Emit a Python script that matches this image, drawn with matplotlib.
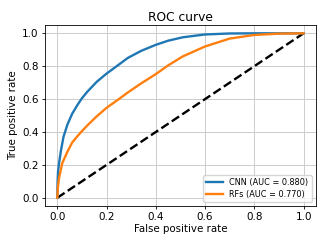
import numpy as np
import matplotlib
matplotlib.use("Agg")
import matplotlib.pyplot as plt

# ROC points
cnn_fpr = [0.0, 0.001, 0.003, 0.007, 0.014, 0.025, 0.041, 0.06, 0.082, 0.1, 0.122,
           0.16, 0.2, 0.25, 0.286, 0.34, 0.4, 0.45, 0.51, 0.6, 0.7, 0.8, 1.0]
cnn_tpr = [0.0, 0.09, 0.16, 0.21, 0.28, 0.37, 0.445, 0.51, 0.565, 0.605, 0.645,
           0.705, 0.755, 0.81, 0.85, 0.893, 0.93, 0.955, 0.976, 0.993, 0.999, 1.0, 1.0]
rf_fpr = [0.0, 0.002, 0.007, 0.02, 0.041, 0.06, 0.082, 0.1, 0.122, 0.16, 0.2,
          0.25, 0.286, 0.34, 0.4, 0.45, 0.51, 0.6, 0.7, 0.8, 0.9, 1.0]
rf_tpr = [0.0, 0.06, 0.12, 0.21, 0.28, 0.335, 0.375, 0.405, 0.44, 0.495, 0.547,
          0.6, 0.64, 0.695, 0.752, 0.805, 0.86, 0.92, 0.968, 0.99, 0.998, 1.0]
labels = ['CNN (AUC = 0.880)', 'RFs (AUC = 0.770)']

fig = plt.figure(figsize=(3.27, 2.46), dpi=100)
ax = fig.add_axes([0.1376, 0.1626, 0.8284, 0.7354])

ax.plot([0, 1], [0, 1], 'k--', lw=1.7)
ax.plot(cnn_fpr, cnn_tpr, color='#1f77b4', lw=1.7, label=labels[0])
ax.plot(rf_fpr, rf_tpr, color='#ff7f0e', lw=1.7, label=labels[1])

ax.grid(True, color='#cccccc', lw=0.7)
ax.set_xticks(np.arange(0, 1.01, 0.2))
ax.set_yticks(np.arange(0, 1.01, 0.2))
ax.tick_params(labelsize=7.5, length=2.5, width=0.6, pad=2)
for s in ax.spines.values():
    s.set_linewidth(0.6)

ax.set_xlabel('False positive rate', fontsize=7.4, labelpad=1)
ax.set_ylabel('True positive rate', fontsize=7.4, labelpad=3)
ax.set_title('ROC curve', fontsize=8.8, pad=3)
ax.legend(loc='lower right', fontsize=5.9, handlelength=2.0, borderpad=0.4,
          labelspacing=0.3, framealpha=0.8)

plt.savefig('out.png', dpi=100)
